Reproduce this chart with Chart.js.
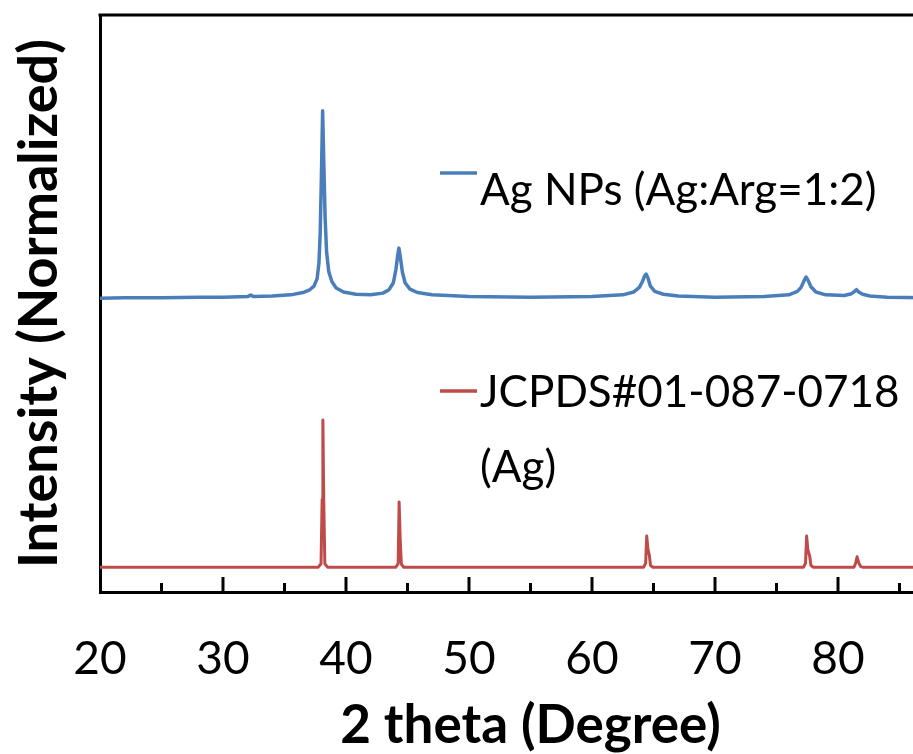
<!DOCTYPE html>
<html>
<head>
<meta charset="utf-8">
<title>XRD pattern of Ag nanoparticles</title>
<script src="https://cdn.jsdelivr.net/npm/chart.js@4.4.1/dist/chart.umd.min.js"></script>
<style>
  html, body { margin: 0; padding: 0; background: #ffffff; overflow: hidden; }
  #wrap { position: relative; width: 913px; height: 754px; overflow: hidden; }
  #wrap canvas { position: absolute; left: 0; top: 0; }
</style>
</head>
<body>
<div id="wrap"><canvas id="xrd" width="1000" height="754"></canvas></div>
<script>
// 2θ positions (degrees) and normalized intensities, measured sample
const sampleTheta = [
  20, 22, 25, 28, 30, 32, 32.25, 32.5, 34, 35.5, 36.5, 37.0, 37.4, 37.65, 37.8, 37.9, 38.0, 38.1,
  38.2, 38.3, 38.42, 38.6, 38.85, 39.2, 39.8, 40.8, 42, 43.0, 43.5, 43.85, 44.05, 44.2, 44.3,
  44.42, 44.58, 44.8, 45.2, 45.8, 47, 50, 55, 60, 62.5, 63.4, 63.85, 64.1, 64.28, 64.4,
  64.55, 64.75, 65.1, 65.8, 67, 70, 74, 76, 76.7, 77.0, 77.25, 77.4, 77.55, 77.8, 78.2,
  79, 80.5, 81.1, 81.35, 81.5, 81.68, 82.0, 82.6, 84, 87, 90
];
const sampleIntensity = [
  50.9, 51.0, 51.0, 51.1, 51.1, 51.2, 51.45, 51.2, 51.3, 51.5, 51.9, 52.3, 53.0, 54.3, 57.0, 62.0, 72.0, 83.4,
  74.0, 65.0, 59.0, 55.5, 53.8, 52.7, 52.0, 51.6, 51.5, 51.8, 52.4, 53.6, 55.8, 58.3, 59.6,
  58.0, 55.5, 53.6, 52.5, 51.9, 51.5, 51.2, 51.1, 51.2, 51.5, 52.0, 52.8, 53.8, 54.8, 55.1,
  54.4, 53.0, 52.1, 51.6, 51.3, 51.1, 51.2, 51.5, 52.1, 52.8, 54.0, 54.6, 54.1, 52.9, 52.0,
  51.5, 51.4, 51.7, 52.1, 52.4, 52.0, 51.6, 51.3, 51.1, 51.0, 51.0
];

// Reference pattern JCPDS#01-087-0718 (Ag)
const refTheta = [
  20, 37.75, 37.97, 38.06, 38.12, 38.19, 38.28, 38.5,
  44.05, 44.24, 44.32, 44.4, 44.5, 44.7,
  64.2, 64.36, 64.45, 64.55, 64.66, 64.76, 64.95,
  77.2, 77.36, 77.45, 77.55, 77.7, 77.8, 78.0,
  81.3, 81.45, 81.55, 81.68, 81.85, 82.0, 90
];
const refIntensity = [
  4.3, 4.3, 4.9, 16.0, 29.8, 16.0, 4.9, 4.3,
  4.3, 4.9, 15.6, 9.5, 4.8, 4.3,
  4.3, 5.0, 9.7, 7.4, 6.4, 4.6, 4.3,
  4.3, 5.0, 9.7, 7.3, 6.2, 4.6, 4.3,
  4.3, 5.1, 6.1, 5.1, 4.4, 4.3, 4.3
];

// Axis range and tick spacing
const thetaMin = 20;
const thetaMax = 90;
const thetaStep = 5;
const labelEvery = 10;

const seriesNames = ['Ag NPs (Ag:Arg=1:2)', 'JCPDS#01-087-0718'];
const seriesColors = ['#4A7EBB', '#BE4B48'];

const toPoints = (xs, ys) => xs.map((x, i) => ({ x: x, y: ys[i] }));

// Box frame (top edge) and inward-pointing tick marks on the 2θ axis
const frameTicks = {
  id: 'frameTicks',
  afterDraw(chart) {
    const { ctx, chartArea: a, scales: { x } } = chart;
    ctx.save();
    ctx.strokeStyle = '#000';
    ctx.lineWidth = 3;
    ctx.beginPath();
    ctx.moveTo(a.left - 1.5, a.top);
    ctx.lineTo(a.right, a.top);
    ctx.stroke();
    x.ticks.forEach(t => {
      if (t.value <= thetaMin || t.value >= thetaMax) return;
      const px = x.getPixelForValue(t.value);
      const len = (t.value % labelEvery === 0) ? 15 : 9;
      ctx.beginPath();
      ctx.moveTo(px, a.bottom);
      ctx.lineTo(px, a.bottom - len);
      ctx.stroke();
    });
    ctx.restore();
  }
};

// In-plot legend entries: short coloured line with its caption beside it
const inlineLegend = {
  id: 'inlineLegend',
  afterDraw(chart) {
    const { ctx, chartArea: a } = chart;
    const entries = [
      { lineY: 173, color: seriesColors[0], lines: [{ text: seriesNames[0], y: 205 }] },
      { lineY: 391, color: seriesColors[1], lines: [{ text: seriesNames[1], y: 407 }, { text: '(Ag)', y: 482 }] }
    ];
    ctx.save();
    ctx.font = '44px Lato, "Open Sans", sans-serif';
    ctx.textBaseline = 'alphabetic';
    ctx.textAlign = 'left';
    entries.forEach(e => {
      ctx.strokeStyle = e.color;
      ctx.lineWidth = 3.5;
      ctx.beginPath();
      ctx.moveTo(a.left + 340, e.lineY);
      ctx.lineTo(a.left + 377, e.lineY);
      ctx.stroke();
      ctx.fillStyle = '#000';
      e.lines.forEach(l => ctx.fillText(l.text, a.left + 380, l.y));
    });
    ctx.restore();
  }
};

new Chart(document.getElementById('xrd'), {
  type: 'scatter',
  data: {
    datasets: [
      {
        label: seriesNames[0],
        data: toPoints(sampleTheta, sampleIntensity),
        showLine: true,
        borderColor: seriesColors[0],
        borderWidth: 3.5,
        pointRadius: 0,
        tension: 0,
        borderJoinStyle: 'round'
      },
      {
        label: seriesNames[1],
        data: toPoints(refTheta, refIntensity),
        showLine: true,
        borderColor: seriesColors[1],
        borderWidth: 3,
        pointRadius: 0,
        tension: 0,
        borderJoinStyle: 'round'
      }
    ]
  },
  options: {
    responsive: false,
    animation: false,
    layout: { padding: { top: 15, right: 39, left: 0, bottom: 0 } },
    plugins: {
      legend: { display: false },
      tooltip: { enabled: false }
    },
    scales: {
      x: {
        type: 'linear',
        min: thetaMin,
        max: thetaMax,
        afterFit(scale) {
          scale.height = 162;
          scale.paddingLeft = 0;
          scale.paddingRight = 0;
        },
        grid: { display: false, drawTicks: false },
        border: { display: true, color: '#000', width: 3 },
        ticks: {
          stepSize: thetaStep,
          autoSkip: false,
          maxRotation: 0,
          padding: 44,
          color: '#000',
          font: { family: 'Lato, "Open Sans", sans-serif', size: 46, lineHeight: 1 },
          callback: v => (v % labelEvery === 0 ? String(v) : '')
        },
        title: {
          display: true,
          text: '2 theta (Degree)',
          color: '#000',
          padding: { top: 0, bottom: 2 },
          font: { family: 'Lato, "Open Sans", sans-serif', size: 53, weight: 'bold', lineHeight: 1 }
        }
      },
      y: {
        type: 'linear',
        min: 0,
        max: 100,
        afterFit(scale) { scale.width = 100; },
        grid: { display: false, drawTicks: false },
        border: { display: true, color: '#000', width: 3 },
        ticks: { display: false },
        title: {
          display: true,
          text: 'Intensity (Normalized)',
          color: '#000',
          padding: { top: 13, bottom: 0 },
          font: { family: 'Lato, "Open Sans", sans-serif', size: 54, weight: 'bold', lineHeight: 1 }
        }
      }
    }
  },
  plugins: [frameTicks, inlineLegend]
});
</script>
</body>
</html>
